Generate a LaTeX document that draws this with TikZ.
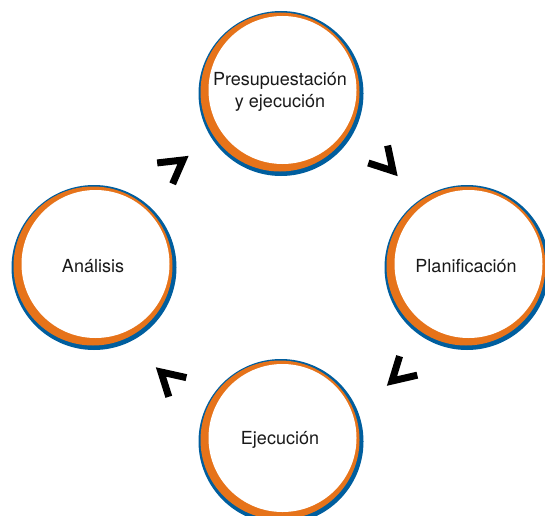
\documentclass[tikz,border=0pt]{standalone}
\usepackage{fontspec}
\setmainfont{TeX Gyre Heros}
\usetikzlibrary{backgrounds}
\definecolor{azul}{HTML}{005E9E}
\definecolor{naranja}{HTML}{E6731A}
\begin{document}
\begin{tikzpicture}[x=1pt, y=1pt,
    etapa/.style={circle, inner sep=0pt, minimum size=146pt, align=center,
      font=\fontsize{18}{22}\selectfont, text=black!90},
    chevron/.pic={\draw[line width=7pt] (-22.5pt,13pt) -- (0pt,0pt) -- (-22.5pt,-13pt);}]
  \useasboundingbox (0,0) rectangle (545,515);
  \node[etapa] (presup) at (280,423) {Presupuestación\\y ejecución};
  \node[etapa] (planif) at (466,249) {Planificación};
  \node[etapa] (ejec) at (280,75) {Ejecución};
  \node[etapa] (analisis) at (93,249) {Análisis};
  % anillos
  \begin{scope}[on background layer]
    \foreach \n in {presup, planif, ejec, analisis} {
      \fill[azul] ([shift={(1pt,-1.5pt)}]\n.center) circle (82.5pt);
      \fill[naranja] (\n.center) circle (79.5pt);
      \fill[white] ([shift={(2.5pt,2pt)}]\n.center) circle (74pt);
    }
  \end{scope}
  % flechas
  \pic[rotate=36.5] at (183,355) {chevron};
  \pic[rotate=-48] at (393,344) {chevron};
  \pic[rotate=223] at (392,134) {chevron};
  \pic[rotate=137.5] at (161,143) {chevron};
\end{tikzpicture}
\end{document}
